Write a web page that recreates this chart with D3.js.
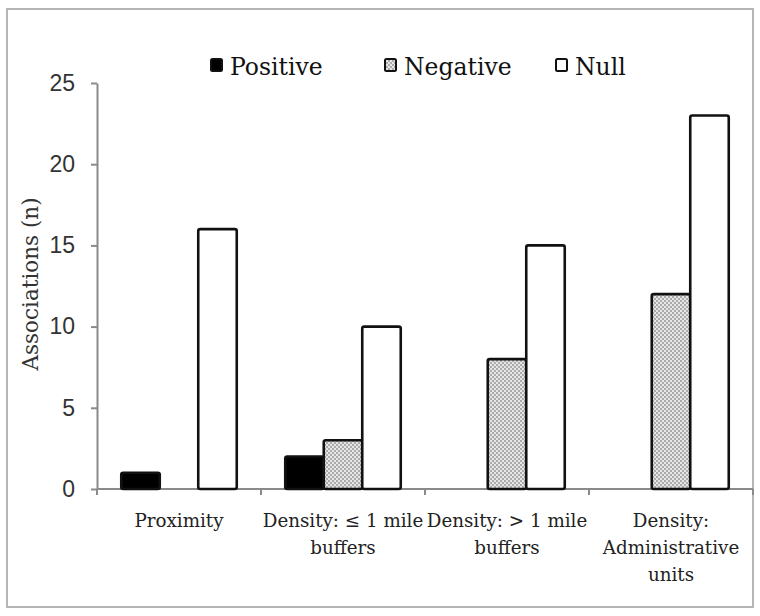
<!DOCTYPE html>
<html><head><meta charset="utf-8">
<script src="https://cdn.jsdelivr.net/npm/d3@7"></script>
<style>body{margin:0;background:#fff}</style>
</head><body>
<svg id="c" width="760" height="616"></svg>
<script>
const categories = [["Proximity"], ["Density: ≤ 1 mile", "buffers"], ["Density: > 1 mile", "buffers"], ["Density:", "Administrative", "units"]];
const seriesNames = ["Positive", "Negative", "Null"];
const positive = [1, 2, 0, 0];
const negative = [0, 3, 8, 12];
const nullVals = [16, 10, 15, 23];
const yTicks = [0, 5, 10, 15, 20, 25];

const svg = d3.select("#c");
const defs = svg.append("defs");
const pat = defs.append("pattern").attr("id", "chk").attr("patternUnits", "userSpaceOnUse").attr("width", 4).attr("height", 4);
pat.append("rect").attr("width", 4).attr("height", 4).attr("fill", "#e6e6e6");
pat.append("rect").attr("width", 2).attr("height", 2).attr("fill", "#ababab");
pat.append("rect").attr("x", 2).attr("y", 2).attr("width", 2).attr("height", 2).attr("fill", "#ababab");

svg.append("rect").attr("x", 7).attr("y", 9).attr("width", 746).attr("height", 598)
  .attr("fill", "#fff").attr("stroke", "#b5b5b5").attr("stroke-width", 2);

const m = {l: 97, r: 753, t: 83, b: 489};
const x = d3.scaleBand().domain(d3.range(categories.length)).range([m.l, m.r]).paddingInner(0).paddingOuter(0);
const y = d3.scaleLinear().domain([0, 25]).range([m.b, m.t]);
const fills = ["#000", "url(#chk)", "#fff"];
const data = [positive, negative, nullVals];
const bw = 38.5;
const xs = d3.scaleBand().domain(d3.range(3)).range([0, bw * 3]);

// y axis
const ya = svg.append("g").attr("transform", `translate(${m.l},0)`)
  .call(d3.axisLeft(y).tickValues(yTicks).tickSize(6).tickPadding(16).tickSizeOuter(0));
ya.select(".domain").attr("stroke", "#8a8a8a").attr("stroke-width", 2);
ya.selectAll(".tick line").attr("stroke", "#8a8a8a").attr("stroke-width", 2);
ya.selectAll(".tick text").attr("font-family", "Liberation Sans, Arial, sans-serif").attr("font-size", 23).attr("fill", "#333");

// x axis
svg.append("line").attr("x1", m.l).attr("x2", m.r).attr("y1", y(0)).attr("y2", y(0)).attr("stroke", "#8a8a8a").attr("stroke-width", 2);
svg.selectAll(".xt").data(d3.range(categories.length + 1)).enter().append("line")
  .attr("x1", i => i < categories.length ? x(i) : m.r).attr("x2", i => i < categories.length ? x(i) : m.r)
  .attr("y1", y(0)).attr("y2", y(0) + 6).attr("stroke", "#8a8a8a").attr("stroke-width", 2);

const g = svg.append("g");
data.forEach((vals, si) => {
  g.selectAll(".b" + si).data(vals.map((v, i) => ({v, i}))).enter().filter(d => d.v > 0)
    .append("rect")
    .attr("x", d => x(d.i) + (x.bandwidth() - bw * 3) / 2 + xs(si))
    .attr("y", d => y(d.v))
    .attr("width", xs.bandwidth())
    .attr("height", d => y(0) - y(d.v))
    .attr("rx", 2)
    .attr("fill", fills[si]).attr("stroke", "#111").attr("stroke-width", 2.6);
});

const lab = svg.append("g").attr("font-family", "DejaVu Serif, serif").attr("font-size", 18.3).attr("fill", "#222").attr("text-anchor", "middle");
categories.forEach((lines, i) => {
  const t = lab.append("text").attr("x", x(i) + x.bandwidth() / 2).attr("y", 527);
  lines.forEach((ln, j) => t.append("tspan").attr("x", x(i) + x.bandwidth() / 2).attr("dy", j ? 27 : 0).text(ln));
});

svg.append("text").attr("transform", "translate(38,284) rotate(-90)").attr("text-anchor", "middle")
  .attr("font-family", "DejaVu Serif, serif").attr("font-size", 21.5).attr("fill", "#333").text("Associations (n)");

// legend
const legX = [211, 385, 556];
const lg = svg.append("g");
seriesNames.forEach((s, i) => {
  lg.append("rect").attr("x", legX[i]).attr("y", 59).attr("width", 11).attr("height", 12).attr("rx", 1.5)
    .attr("fill", fills[i]).attr("stroke", "#111").attr("stroke-width", 2);
  lg.append("text").attr("x", legX[i] + 19).attr("y", 75).attr("font-family", "DejaVu Serif, serif")
    .attr("font-size", 23.5).attr("fill", "#111").text(s);
});
</script>
</body></html>
